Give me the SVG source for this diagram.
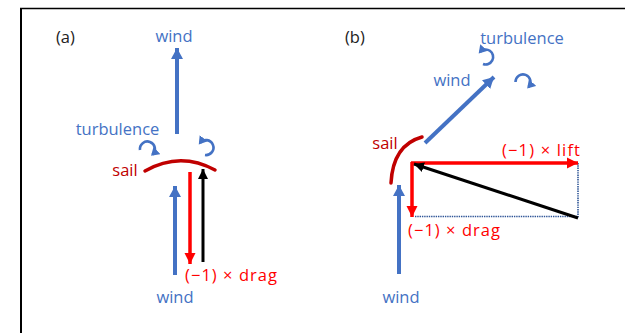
<svg xmlns="http://www.w3.org/2000/svg" width="625" height="333" viewBox="0 0 625 333">
<style>
.t{font-family:"Open Sans","Liberation Sans",sans-serif;font-size:16.5px}
.blue{fill:#4472C4}
.red{fill:#FF0000}
.dred{fill:#C00000}
.blk{fill:#222}
.ab{stroke:#4472C4;stroke-width:4;fill:none;marker-end:url(#hb)}
.ar{stroke:#FF0000;stroke-width:3.5;fill:none;marker-end:url(#hr)}
.ak{stroke:#000;stroke-width:3;fill:none;marker-end:url(#hk)}
.sw{stroke:#4472C4;stroke-width:2.6;fill:none;marker-end:url(#hs)}
.sail{stroke:#C00000;stroke-width:3.5;fill:none;stroke-linecap:round}
.dot{stroke:#2F5597;stroke-width:1.6;stroke-dasharray:1.4 0.9;fill:none}
</style>
<defs>
<marker id="hb" markerUnits="userSpaceOnUse" markerWidth="12" markerHeight="12" refX="11" refY="6" orient="auto"><path d="M0,0 L11,6 L0,12 Z" fill="#4472C4"/></marker>
<marker id="hr" markerUnits="userSpaceOnUse" markerWidth="12" markerHeight="12" refX="11" refY="6" orient="auto"><path d="M0,0.5 L11,6 L0,11.5 Z" fill="#FF0000"/></marker>
<marker id="hk" markerUnits="userSpaceOnUse" markerWidth="12" markerHeight="12" refX="10" refY="5.5" orient="auto"><path d="M0,0.5 L10,5.5 L0,10.5 Z" fill="#000"/></marker>
<marker id="hs" markerUnits="userSpaceOnUse" markerWidth="10" markerHeight="10" refX="6" refY="5" orient="auto"><path d="M0,0 L8,5 L0,10 Z" fill="#4472C4"/></marker>
</defs>
<rect width="625" height="333" fill="#fff"/>
<g id="frame" stroke="#000" fill="none">
<line x1="20" y1="8.5" x2="625" y2="8.5" stroke-width="1.5"/>
<line x1="21" y1="8" x2="21" y2="333" stroke-width="2"/>
</g>
<g id="connectors">
<line class="ab" x1="177" y1="134" x2="177" y2="48"/>
<line class="ab" x1="175" y1="275" x2="175" y2="186"/>
<line class="ar" x1="190" y1="172" x2="190" y2="264"/>
<line class="ak" x1="203" y1="262" x2="203" y2="169"/>
<line class="ab" x1="425" y1="143" x2="494" y2="77"/>
<line class="ab" x1="399" y1="274" x2="399" y2="185"/>
<line class="dot" x1="578" y1="163" x2="578" y2="218"/>
<line class="dot" x1="415" y1="216.5" x2="578" y2="216.5"/>
<line class="ar" x1="411" y1="163" x2="578" y2="163"/>
<line class="ar" x1="412" y1="162" x2="412" y2="217"/>
<line class="ak" x1="578" y1="218" x2="414" y2="164"/>
</g>
<g id="panel-a">
<text class="t blk" x="56" y="43">(a)</text>
<g id="wind-a-top"><text class="t blue" x="174" y="42" text-anchor="middle">wind</text></g>
<g id="turbulence-a"><text class="t blue" x="117.5" y="135" text-anchor="middle">turbulence</text>
<path class="sw" d="M140,150 A7.5,7.5 0 1 1 152.5,154.5"/>
<path class="sw" d="M205,155 A7.5,7.5 0 1 0 200,143"/>
</g>
<g id="sail-a"><path class="sail" d="M145,171 Q180,151 215,170"/>
<text class="t dred" x="125" y="176" text-anchor="middle">sail</text></g>
<g id="drag-a"><text class="t red" x="185" y="281" textLength="92" lengthAdjust="spacing">(−1) × drag</text></g>
<g id="wind-a-bottom"><text class="t blue" x="175" y="303" text-anchor="middle">wind</text></g>
</g>
<g id="panel-b">
<text class="t blk" x="345" y="43">(b)</text>
<g id="turbulence-b"><text class="t blue" x="522" y="44" text-anchor="middle">turbulence</text>
<path class="sw" d="M483,64 A7.5,7.5 0 1 0 480,52"/>
<path class="sw" d="M515.5,82 A7.5,7.5 0 1 1 528.5,87"/>
</g>
<g id="wind-b-top"><text class="t blue" x="452" y="86" text-anchor="middle">wind</text></g>
<g id="sail-b"><path class="sail" d="M422,137 Q393,145 391,183"/>
<text class="t dred" x="385" y="149" text-anchor="middle">sail</text></g>
<g id="lift-b"><text class="t red" x="502" y="156" textLength="78" lengthAdjust="spacing">(−1) × lift</text></g>
<g id="drag-b"><text class="t red" x="408" y="236" textLength="92" lengthAdjust="spacing">(−1) × drag</text></g>
<g id="wind-b-bottom"><text class="t blue" x="401" y="303" text-anchor="middle">wind</text></g>
</g>
</svg>
